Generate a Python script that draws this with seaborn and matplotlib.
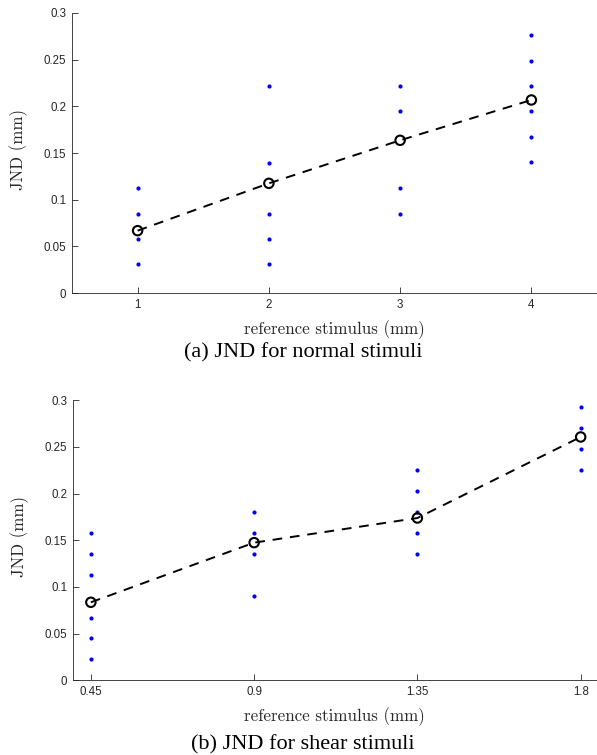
import numpy as np
import pandas as pd
import matplotlib
matplotlib.use("Agg")
import matplotlib.pyplot as plt
import seaborn as sns

# (a) normal stimuli
normal_ref = [1, 2, 3, 4]
normal_points = [
    [0.1125, 0.085, 0.058, 0.031],
    [0.2215, 0.1395, 0.085, 0.058, 0.031],
    [0.2215, 0.1945, 0.1125, 0.085],
    [0.2765, 0.249, 0.2215, 0.1945, 0.1675, 0.14],
]
normal_mean = [0.0668, 0.1175, 0.1636, 0.2068]

# (b) shear stimuli
shear_ref = [0.45, 0.9, 1.35, 1.8]
shear_points = [
    [0.1575, 0.135, 0.1125, 0.067, 0.045, 0.0225],
    [0.18, 0.1575, 0.135, 0.09],
    [0.225, 0.2025, 0.18, 0.1575, 0.135],
    [0.2925, 0.27, 0.2475, 0.225],
]
shear_mean = [0.0836, 0.1475, 0.1739, 0.2607]

sns.set_style("ticks")
plt.rcParams["font.family"] = ["Liberation Sans", "DejaVu Sans"]

fig = plt.figure(figsize=(5.97, 7.55), dpi=100)
ax1 = fig.add_axes([0.1206, 0.6119, 0.8794, 0.3709])
ax2 = fig.add_axes([0.1218, 0.0989, 0.8782, 0.3709])

cm = ["cmr10", "DejaVu Serif"]       # LaTeX-looking axis labels
serif = ["Liberation Serif", "DejaVu Serif"]  # Times-like captions
axis_col = "#262626"


def draw(ax, refs, points, means, xlim, xticks, xticklabels, caption, cap_y):
    pts = pd.DataFrame(
        [(r, v) for r, vals in zip(refs, points) for v in vals],
        columns=["ref", "jnd"],
    )
    mean_df = pd.DataFrame({"ref": refs, "jnd": means})

    sns.lineplot(data=mean_df, x="ref", y="jnd", ax=ax, color="black",
                 lw=1.4, linestyle=(0, (5, 4)), zorder=2)
    sns.scatterplot(data=pts, x="ref", y="jnd", ax=ax, color="#0000ff",
                    s=9, linewidth=0, zorder=3)
    sns.scatterplot(data=mean_df, x="ref", y="jnd", ax=ax, marker="o",
                    facecolor="none", edgecolor="black", s=46,
                    linewidth=1.5, zorder=4)

    ax.set_xlim(*xlim)
    ax.set_ylim(0, 0.3)
    ax.set_xticks(xticks)
    ax.set_xticklabels(xticklabels)
    ax.set_yticks([0, 0.05, 0.1, 0.15, 0.2, 0.25, 0.3])
    ax.set_yticklabels(["0", "0.05", "0.1", "0.15", "0.2", "0.25", "0.3"])
    ax.tick_params(direction="in", length=4, width=0.6, colors=axis_col,
                   labelsize=8.3, labelcolor=axis_col, pad=4)
    for side in ["top", "right"]:
        ax.spines[side].set_visible(False)
    for side in ["left", "bottom"]:
        ax.spines[side].set_color(axis_col)
        ax.spines[side].set_linewidth(0.6)
    ax.set_xlabel("reference stimulus (mm)", family=cm, fontsize=12.2,
                  color=axis_col)
    ax.set_ylabel("JND (mm)", family=cm, fontsize=12.2, color=axis_col)
    ax.xaxis.set_label_coords(0.5, -0.097)
    ax.yaxis.set_label_coords(-0.084, 0.514)
    fig.text(0.508, cap_y, caption, family=serif, fontsize=16,
             ha="center", va="center", color="black")


draw(ax1, normal_ref, normal_points, normal_mean, (0.5, 4.5),
     normal_ref, ["1", "2", "3", "4"], "(a) JND for normal stimuli",
     1 - 353 / 755)
draw(ax2, shear_ref, shear_points, shear_mean, (0.4, 1.845),
     shear_ref, ["0.45", "0.9", "1.35", "1.8"], "(b) JND for shear stimuli",
     1 - 745 / 755)

fig.savefig("out.png", dpi=100)
